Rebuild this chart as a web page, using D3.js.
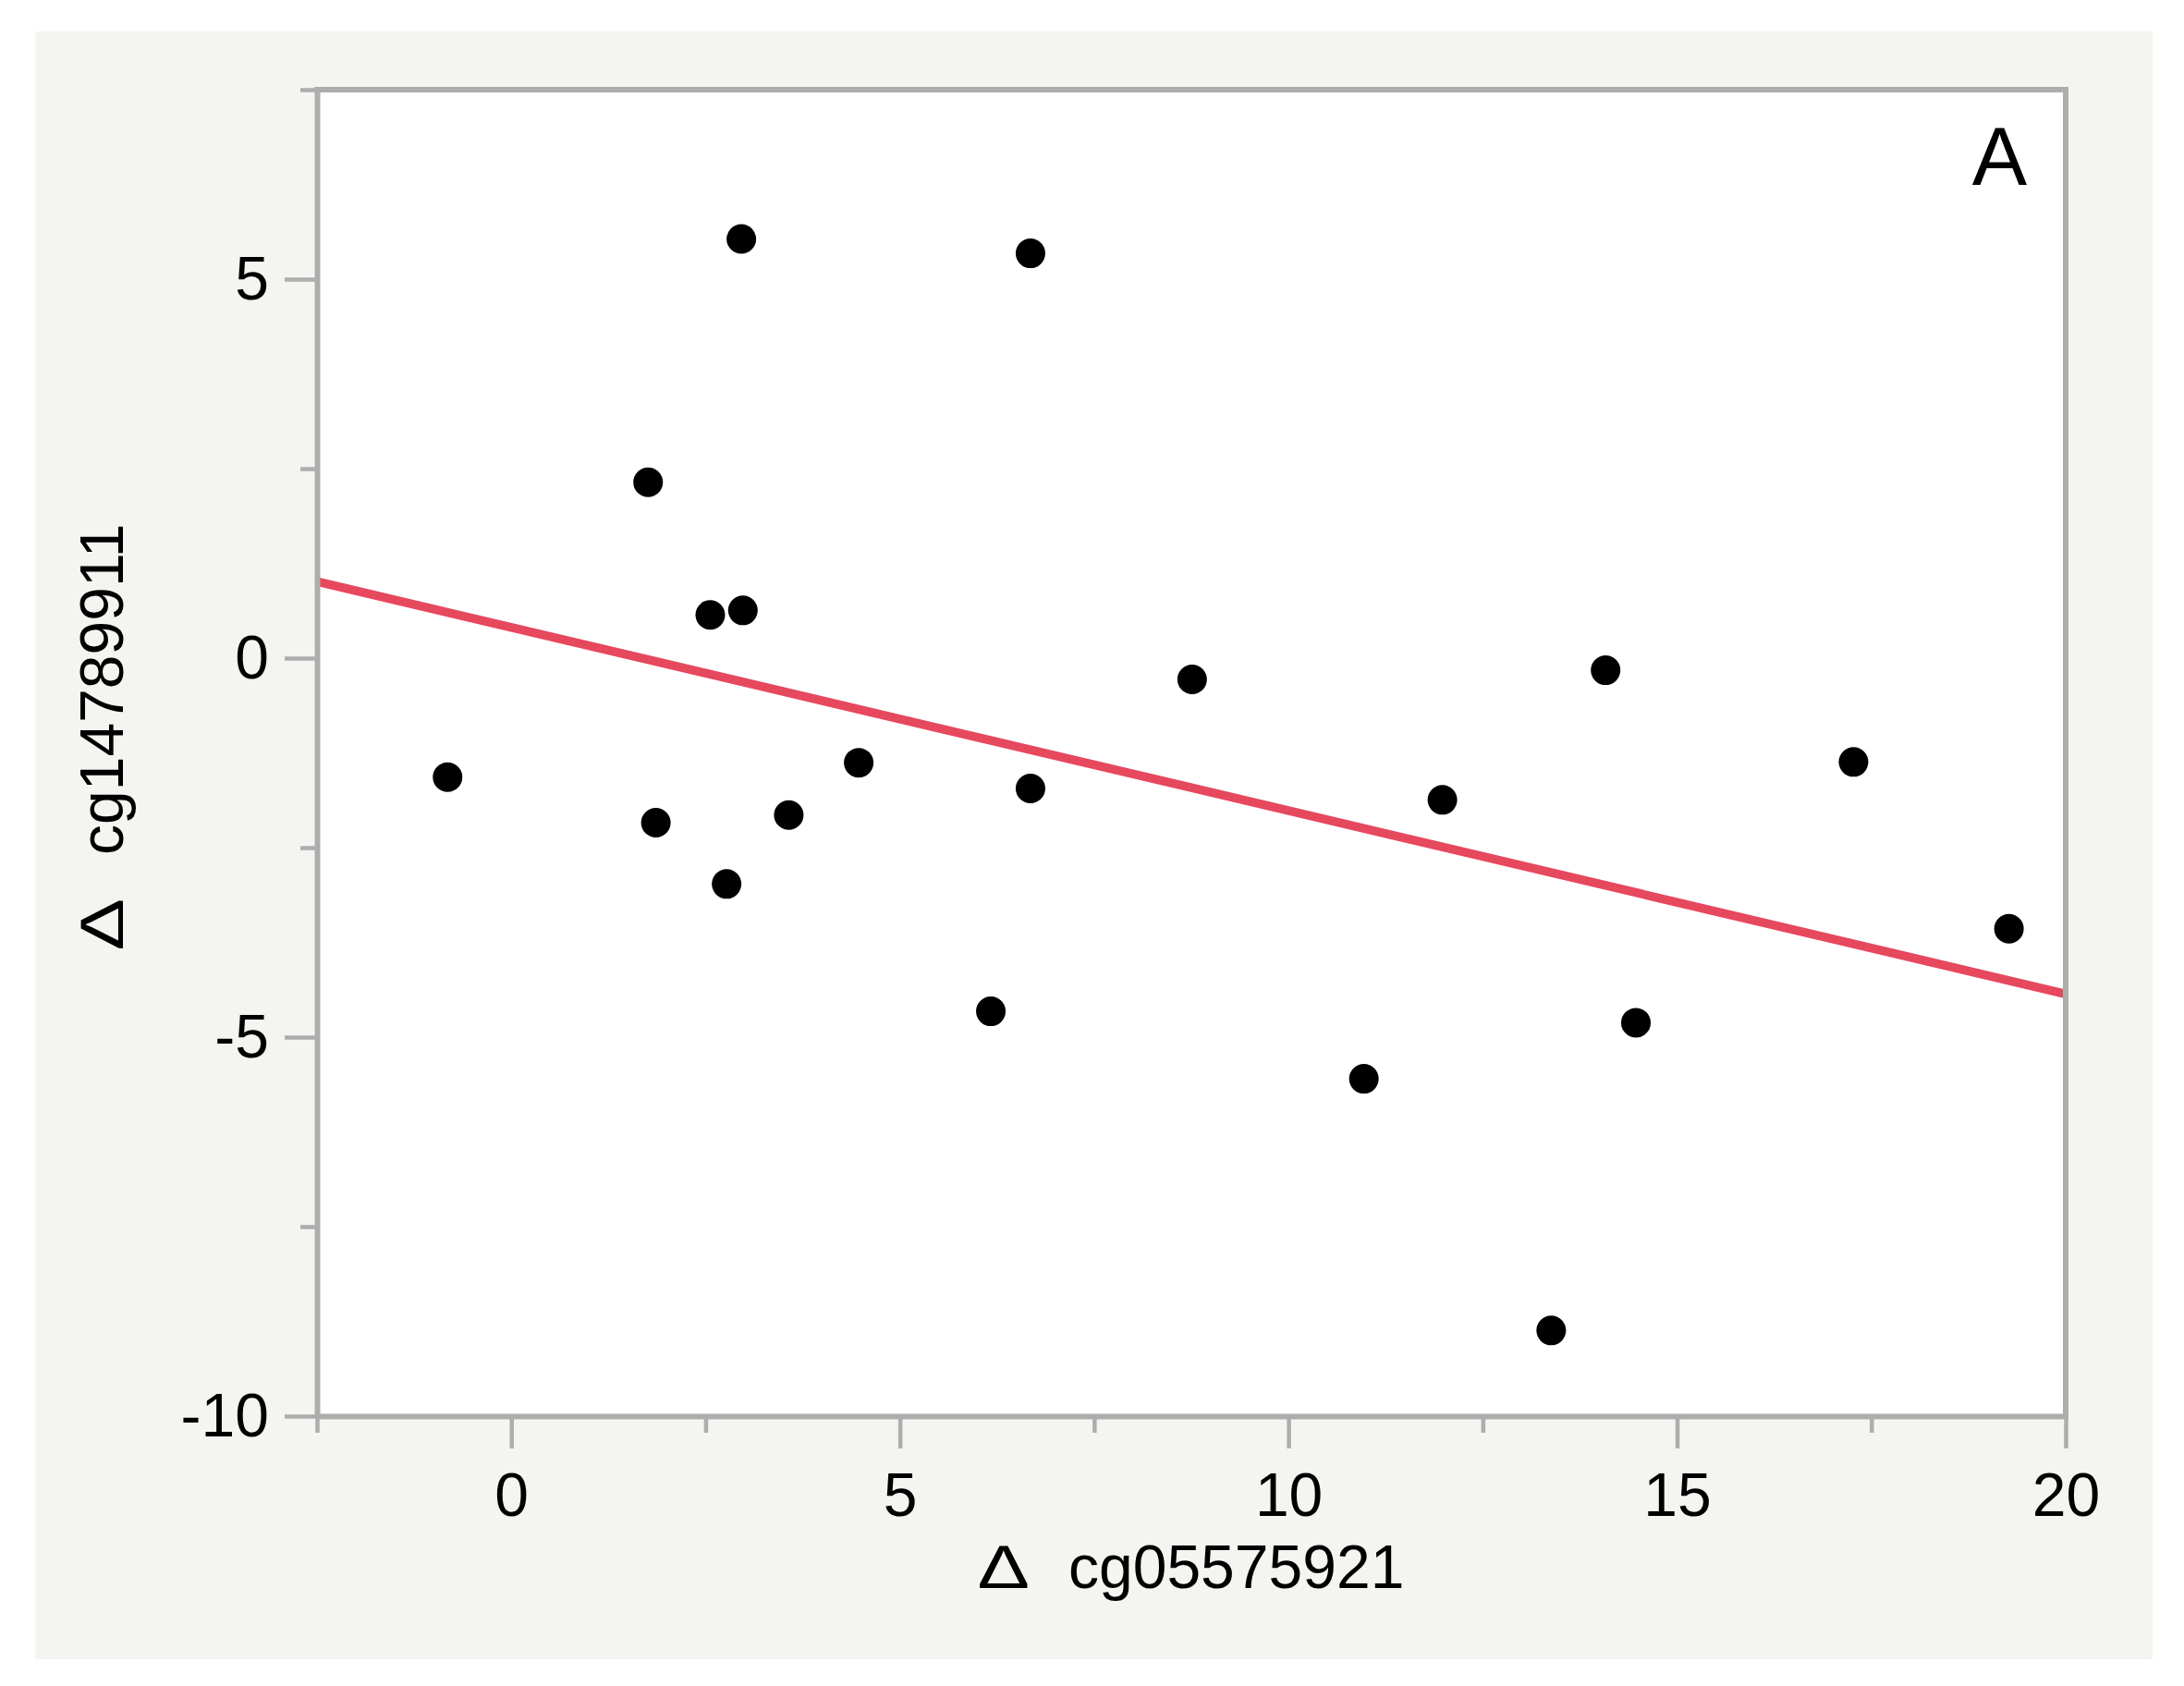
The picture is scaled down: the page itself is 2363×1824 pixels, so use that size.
<!DOCTYPE html>
<html>
<head>
<meta charset="utf-8">
<script src="https://cdn.jsdelivr.net/npm/d3@7"></script>
<style>
  html, body { margin: 0; padding: 0; background: #ffffff; }
  svg { display: block; }
  text { font-family: "Liberation Sans", Arial, Helvetica, sans-serif; fill: #000; }
</style>
</head>
<body>
<svg id="chart" width="2363" height="1824"></svg>
<script>
// ---- data ----
const xValues = [-0.82, 1.76, 1.86, 2.56, 2.98, 2.77, 2.96, 3.57, 4.47, 6.17,
                 6.68, 6.68, 8.76, 10.97, 11.98, 13.38, 14.08, 14.47, 17.27, 19.27];
const yValues = [-1.57, 2.32, -2.17, 0.57, 0.63, -2.98, 5.53, -2.07, -1.38, -4.66,
                 5.34, -1.72, -0.28, -5.55, -1.87, -8.87, -0.16, -4.81, -1.37, -3.57];
const fitX = [-2.5, 20];
const fitY = [1.01, -4.43];
const xDomain = [-2.5, 20];
const yDomain = [-10, 7.5];
const xMajorTicks = [0, 5, 10, 15, 20];
const xMinorTicks = [-2.5, 2.5, 7.5, 12.5, 17.5];
const yMajorTicks = [-10, -5, 0, 5];
const yMinorTicks = [-7.5, -2.5, 2.5, 7.5];
const xTitle = "cg05575921";
const yTitle = "cg14789911";
const deltaSymbol = "\u2206";
const panelLabel = "A";

// ---- layout ----
const svg = d3.select("#chart");
const plot = { left: 343, right: 2235, top: 97, bottom: 1532 };
const gray = "#adadad";

svg.append("rect").attr("x", 38).attr("y", 34).attr("width", 2291).attr("height", 1761)
   .attr("fill", "#f4f4f1");

const x = d3.scaleLinear().domain(xDomain).range([plot.left, plot.right]);
const y = d3.scaleLinear().domain(yDomain).range([plot.bottom, plot.top]);

svg.append("rect").attr("x", plot.left).attr("y", plot.top)
   .attr("width", plot.right - plot.left).attr("height", plot.bottom - plot.top)
   .attr("fill", "#ffffff");

// regression line
const fit = fitX.map((d, i) => [d, fitY[i]]);
svg.append("path").datum(fit)
   .attr("d", d3.line().x(d => x(d[0])).y(d => y(d[1])))
   .attr("stroke", "#e6485e").attr("stroke-width", 9.5).attr("fill", "none");

// points
const pts = xValues.map((d, i) => ({ x: d, y: yValues[i] }));
svg.append("g").selectAll("circle").data(pts).join("circle")
   .attr("cx", d => x(d.x)).attr("cy", d => y(d.y)).attr("r", 16).attr("fill", "#000");

const fmt = d => String(d);

function styleAxis(g) {
  g.select(".domain").attr("stroke", gray).attr("stroke-width", 6);
  g.selectAll(".tick line").attr("stroke", gray).attr("stroke-width", 4.5);
  g.selectAll(".tick text").attr("font-size", 66).attr("fill", "#000")
   .attr("font-family", "'Liberation Sans', Arial, Helvetica, sans-serif");
}
function styleMinor(g) {
  g.select(".domain").remove();
  g.selectAll(".tick line").attr("stroke", gray).attr("stroke-width", 4.5);
}

// x axis
svg.append("g").attr("transform", `translate(0,${plot.bottom})`)
   .call(d3.axisBottom(x).tickValues(xMinorTicks).tickSize(18).tickFormat(""))
   .call(styleMinor);
svg.append("g").attr("transform", `translate(0,${plot.bottom})`)
   .call(d3.axisBottom(x).tickValues(xMajorTicks).tickSize(35).tickSizeOuter(0).tickPadding(26).tickFormat(fmt))
   .call(styleAxis);

// y axis
svg.append("g").attr("transform", `translate(${plot.left},0)`)
   .call(d3.axisLeft(y).tickValues(yMinorTicks).tickSize(18).tickFormat(""))
   .call(styleMinor);
svg.append("g").attr("transform", `translate(${plot.left},0)`)
   .call(d3.axisLeft(y).tickValues(yMajorTicks).tickSize(35).tickSizeOuter(0).tickPadding(17).tickFormat(fmt))
   .call(styleAxis);

// frame (top, right)
svg.append("path")
   .attr("d", `M${plot.left - 3},${plot.top}H${plot.right}V${plot.bottom + 3}`)
   .attr("fill", "none").attr("stroke", gray).attr("stroke-width", 6);

// axis titles
svg.append("text").attr("transform", "translate(1060,1718) scale(1.28,1)")
   .attr("font-size", 66).attr("text-anchor", "start").text(deltaSymbol);
svg.append("text").attr("x", 1156).attr("y", 1718)
   .attr("font-size", 66).attr("text-anchor", "start").text(xTitle);

svg.append("text").attr("transform", "translate(133,1026) rotate(-90) scale(1.28,1)")
   .attr("font-size", 66).attr("text-anchor", "start").text(deltaSymbol);
svg.append("text").attr("transform", "translate(133,925) rotate(-90)")
   .attr("font-size", 66).attr("text-anchor", "start").text(yTitle);

// panel label
svg.append("text").attr("x", 2193).attr("y", 200).attr("text-anchor", "end")
   .attr("font-size", 89).text(panelLabel);
</script>
</body>
</html>
